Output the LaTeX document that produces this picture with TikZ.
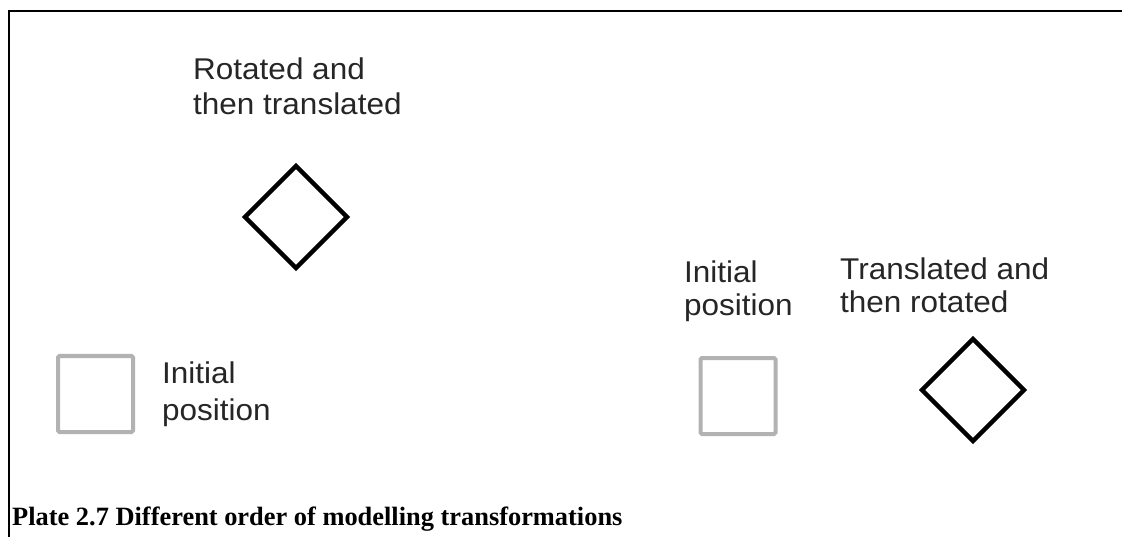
\documentclass[tikz,border=0pt]{standalone}
\usepackage{fontspec}
\setmainfont{Liberation Sans}[FakeStretch=1.05]
\newfontfamily\capfont{Liberation Serif}
\usetikzlibrary{shapes.geometric}
\begin{document}
\begin{tikzpicture}[x=1pt,y=-1pt,
  lbl/.style={anchor=base west,inner sep=0pt,font=\fontsize{30}{35}\selectfont,text=black!85},
  rotbox/.style={draw=black,line width=4.4pt,diamond,aspect=1,minimum width=104pt,minimum height=104pt,inner sep=0pt},
  initbox/.style={draw=black!30,line width=4pt,rectangle,rounded corners=1.5pt,minimum width=75pt,minimum height=76pt,inner sep=0pt},
  frameline/.style={line width=2pt,black}]
\useasboundingbox (0,0) rectangle (1122,537);
\coordinate (fc) at (9,11);
\coordinate (fr) at (1122,11);
\coordinate (fb) at (9,537);
\draw[frameline] (fb) -- (fc) -- (fr);
% left group
\node[lbl] (t1a) at (193,80) {Rotated and};
\node[lbl] (t1b) at (193,115) {then translated};
\node[rotbox] (d1) at (296,217) {};
\node[initbox] (s1) at (95.5,394) {};
\node[lbl] (t2a) at (162,383) {Initial};
\node[lbl] (t2b) at (162,420) {position};
% right group
\node[lbl] (t3a) at (684,283) {Initial};
\node[lbl] (t3b) at (684,316) {position};
\node[initbox] (s2) at (738,396) {};
\node[lbl] (t4a) at (840,280) {Translated and};
\node[lbl] (t4b) at (840,313) {then rotated};
\node[rotbox] (d2) at (973,390) {};
% caption
\node[anchor=base west,inner sep=0pt,font=\capfont\bfseries\fontsize{26.4}{30}\selectfont] (cap) at (12,525) {Plate 2.7 Different order of modelling transformations};
\end{tikzpicture}
\end{document}
